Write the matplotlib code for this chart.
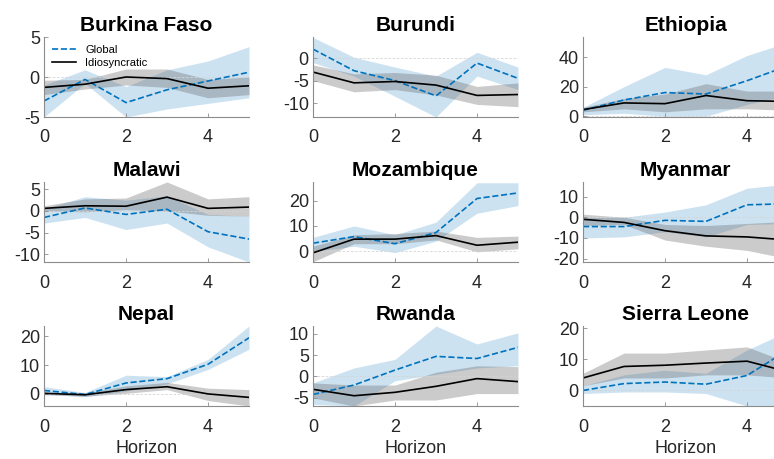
import matplotlib
matplotlib.use("Agg")
import matplotlib.pyplot as plt
import numpy as np

plt.rcParams['font.family'] = ['Liberation Sans', 'DejaVu Sans']
plt.rcParams['axes.unicode_minus'] = False

horizon = [0, 1, 2, 3, 4, 5]
countries = ["Burkina Faso", "Burundi", "Ethiopia",
             "Malawi", "Mozambique", "Myanmar",
             "Nepal", "Rwanda", "Sierra Leone"]

# Global shock response (dashed blue) with band
glob_mid = {
    "Burkina Faso": [-3.0, -0.3, -3.2, -1.6, -0.5, 0.6],
    "Burundi":      [2.0, -2.8, -5.0, -8.4, -1.1, -4.5],
    "Ethiopia":     [4, 11, 16, 15, 24, 34],
    "Malawi":       [-1.5, 0.7, -0.8, 0.4, -4.8, -6.5],
    "Mozambique":   [3.2, 5.8, 3.0, 7.4, 20.8, 23.0],
    "Myanmar":      [-4.5, -4.5, -1.5, -2.0, 6.0, 6.5],
    "Nepal":        [1.2, -0.2, 3.8, 5.3, 10.3, 19.5],
    "Rwanda":       [-4.2, -2.0, 1.5, 4.7, 4.2, 6.8],
    "Sierra Leone": [0.0, 2.2, 2.7, 2.0, 4.8, 13.0],
}
glob_lo = {
    "Burkina Faso": [-5.0, -0.8, -5.0, -4.0, -3.3, -2.6],
    "Burundi":      [-1.0, -4.0, -8.5, -13.1, -4.0, -7.0],
    "Ethiopia":     [1, 2, 0, 0, 8, 14],
    "Malawi":       [-2.8, -1.5, -4.3, -2.8, -8.3, -11.8],
    "Mozambique":   [0.0, 2.0, -0.5, 4.0, 15.0, 18.0],
    "Myanmar":      [-10.0, -9.5, -7.0, -9.5, -3.5, -3.0],
    "Nepal":        [0.0, -1.0, 1.0, 3.5, 8.5, 15.5],
    "Rwanda":       [-6.5, -6.9, -1.0, 0.5, 2.0, 2.5],
    "Sierra Leone": [-1.0, -0.5, -0.5, -1.0, -5.0, -5.0],
}
glob_hi = {
    "Burkina Faso": [-1.0, 0.9, -1.2, 0.9, 2.0, 3.8],
    "Burundi":      [4.6, 0.2, -2.0, -4.0, 1.3, -2.0],
    "Ethiopia":     [6, 20, 33, 28, 41, 50],
    "Malawi":       [0.5, 3.3, 2.5, 3.5, -0.8, -1.2],
    "Mozambique":   [5.5, 10.0, 6.5, 11.5, 27.0, 27.0],
    "Myanmar":      [0.0, 0.0, 2.5, 6.0, 14.0, 16.0],
    "Nepal":        [2.5, 0.5, 6.5, 6.0, 12.0, 23.6],
    "Rwanda":       [-1.5, 2.0, 4.0, 11.8, 7.6, 10.2],
    "Sierra Leone": [1.5, 5.0, 6.5, 5.5, 13.0, 19.0],
}

# Idiosyncratic shock response (solid black) with band
idio_mid = {
    "Burkina Faso": [-1.3, -0.9, 0.0, -0.2, -1.4, -1.1],
    "Burundi":      [-3.1, -5.5, -5.2, -6.0, -8.3, -8.1],
    "Ethiopia":     [4.5, 9, 8.5, 14, 10.5, 10],
    "Malawi":       [0.6, 1.2, 1.1, 3.2, 0.6, 0.9],
    "Mozambique":   [-0.6, 4.8, 4.8, 6.2, 2.4, 3.6],
    "Myanmar":      [-1.0, -2.5, -6.5, -9.0, -9.5, -11.0],
    "Nepal":        [0.2, -0.3, 1.5, 2.5, 0.0, -1.2],
    "Rwanda":       [-3.0, -4.5, -3.7, -2.3, -0.5, -1.2],
    "Sierra Leone": [4.0, 7.7, 8.1, 8.8, 9.4, 6.0],
}
idio_lo = {
    "Burkina Faso": [-2.2, -1.5, -1.0, -1.3, -2.6, -2.2],
    "Burundi":      [-5.0, -7.5, -7.0, -8.2, -10.3, -10.8],
    "Ethiopia":     [3, 5, 3, 5, 5, 4],
    "Malawi":       [0.0, -0.2, 0.3, 0.0, -1.0, -1.2],
    "Mozambique":   [-4.1, 3.0, 3.0, 4.5, -0.2, 1.0],
    "Myanmar":      [-4.0, -3.5, -11.0, -14.0, -16.0, -20.0],
    "Nepal":        [-0.3, -0.8, 0.2, 1.5, -2.3, -4.2],
    "Rwanda":       [-5.0, -6.9, -5.5, -5.5, -4.0, -4.0],
    "Sierra Leone": [1.5, 4.0, 4.0, 5.0, 5.0, 4.0],
}
idio_hi = {
    "Burkina Faso": [-0.4, -0.3, 1.0, 1.0, -0.3, 0.0],
    "Burundi":      [-1.5, -3.5, -3.2, -3.8, -6.3, -5.5],
    "Ethiopia":     [6, 12, 15, 22, 17, 17],
    "Malawi":       [1.2, 2.8, 3.0, 6.7, 2.8, 3.3],
    "Mozambique":   [2.0, 6.5, 7.0, 8.0, 5.5, 6.0],
    "Myanmar":      [1.5, 0.0, -3.5, -4.0, -3.0, -2.0],
    "Nepal":        [0.6, 0.3, 2.8, 4.0, 2.0, 1.5],
    "Rwanda":       [-1.5, -2.0, -2.0, 1.0, 2.5, 2.3],
    "Sierra Leone": [5.5, 12.0, 12.0, 13.0, 14.0, 9.0],
}

ylims = {
    "Burkina Faso": (-5, 5), "Burundi": (-13.1, 4.7), "Ethiopia": (-0.5, 53.5),
    "Malawi": (-11.8, 6.7), "Mozambique": (-4.2, 27.3), "Myanmar": (-21.6, 17),
    "Nepal": (-4.2, 23.6), "Rwanda": (-6.9, 11.8), "Sierra Leone": (-5, 20.7),
}
yticks = {
    "Burkina Faso": [-5, 0, 5], "Burundi": [-10, -5, 0], "Ethiopia": [0, 20, 40],
    "Malawi": [-10, -5, 0, 5], "Mozambique": [0, 10, 20], "Myanmar": [-20, -10, 0, 10],
    "Nepal": [0, 10, 20], "Rwanda": [-5, 0, 5, 10], "Sierra Leone": [0, 10, 20],
}

W, H = 774, 459
fig = plt.figure(figsize=(W / 100, H / 100), dpi=100)

col_left = [44, 313, 583]
row_top = [37, 182, 326]
ax_w, ax_h = 205, 80

blue = '#0072BD'
for i, c in enumerate(countries):
    r, k = divmod(i, 3)
    ax = fig.add_axes([col_left[k] / W, 1 - (row_top[r] + ax_h) / H, ax_w / W, ax_h / H])
    ax.fill_between(horizon, glob_lo[c], glob_hi[c], color=blue, alpha=0.2, lw=0)
    ax.fill_between(horizon, idio_lo[c], idio_hi[c], color='#555555', alpha=0.3, lw=0)
    ax.axhline(0, color='#d4d4d4', lw=0.6, ls=(0, (3, 2)), zorder=1)
    ax.plot(horizon, glob_mid[c], color=blue, ls='--', lw=1.2, label='Global')
    ax.plot(horizon, idio_mid[c], color='black', lw=1.2, label='Idiosyncratic')
    ax.set_xlim(0, 5)
    ax.set_ylim(*ylims[c])
    ax.set_xticks([0, 2, 4])
    ax.set_yticks(yticks[c])
    ax.set_title(c, fontsize=15, fontweight='bold', pad=4)
    for s in ['top', 'right']:
        ax.spines[s].set_visible(False)
    for s in ['left', 'bottom']:
        ax.spines[s].set_color('#8c8c8c')
        ax.spines[s].set_linewidth(0.8)
    ax.tick_params(direction='in', length=3, width=0.6, color='#8c8c8c',
                   labelsize=13, labelcolor='#262626', pad=3)
    ax.tick_params(axis='x', pad=9)
    if r == 2:
        ax.set_xlabel('Horizon', fontsize=13, color='#262626', labelpad=3)
    if i == 0:
        ax.legend(loc='upper left', frameon=False, fontsize=8, handlelength=2.2,
                  borderaxespad=0.3, labelspacing=0.3)

fig.savefig('out.png', dpi=100)
